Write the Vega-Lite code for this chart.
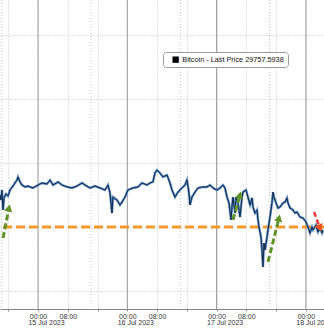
{
  "$schema": "https://vega.github.io/schema/vega-lite/v6.json",
  "width": 324,
  "height": 309,
  "autosize": {"type": "none"},
  "padding": {"left": 0, "top": 0, "right": 0, "bottom": 19},
  "background": "white",
  "config": {"view": {"stroke": null}, "font": "Liberation Sans"},
  "datasets": {
    "btc": [
      {"t": "2023-07-14T13:47", "price": 30000},
      {"t": "2023-07-14T14:03", "price": 29961},
      {"t": "2023-07-14T14:19", "price": 30039},
      {"t": "2023-07-14T14:36", "price": 29883},
      {"t": "2023-07-14T14:52", "price": 29977},
      {"t": "2023-07-14T15:24", "price": 30008},
      {"t": "2023-07-14T15:56", "price": 29992},
      {"t": "2023-07-14T16:28", "price": 30039},
      {"t": "2023-07-14T17:17", "price": 30070},
      {"t": "2023-07-14T17:49", "price": 30094},
      {"t": "2023-07-14T18:21", "price": 30117},
      {"t": "2023-07-14T18:37", "price": 30141},
      {"t": "2023-07-14T19:10", "price": 30102},
      {"t": "2023-07-14T19:42", "price": 30078},
      {"t": "2023-07-14T20:30", "price": 30063},
      {"t": "2023-07-14T21:19", "price": 30070},
      {"t": "2023-07-14T21:51", "price": 30063},
      {"t": "2023-07-14T22:39", "price": 30055},
      {"t": "2023-07-15T00:00", "price": 30078},
      {"t": "2023-07-15T01:05", "price": 30094},
      {"t": "2023-07-15T02:25", "price": 30086},
      {"t": "2023-07-15T03:14", "price": 30117},
      {"t": "2023-07-15T04:02", "price": 30078},
      {"t": "2023-07-15T05:23", "price": 30102},
      {"t": "2023-07-15T06:27", "price": 30078},
      {"t": "2023-07-15T07:48", "price": 30063},
      {"t": "2023-07-15T09:08", "price": 30055},
      {"t": "2023-07-15T10:29", "price": 30070},
      {"t": "2023-07-15T11:50", "price": 30094},
      {"t": "2023-07-15T12:38", "price": 30078},
      {"t": "2023-07-15T13:59", "price": 30055},
      {"t": "2023-07-15T15:19", "price": 30070},
      {"t": "2023-07-15T16:40", "price": 30055},
      {"t": "2023-07-15T18:00", "price": 30039},
      {"t": "2023-07-15T18:49", "price": 30078},
      {"t": "2023-07-15T19:21", "price": 30016},
      {"t": "2023-07-15T19:53", "price": 29859},
      {"t": "2023-07-15T20:09", "price": 29984},
      {"t": "2023-07-15T21:14", "price": 29961},
      {"t": "2023-07-15T22:02", "price": 29922},
      {"t": "2023-07-15T22:35", "price": 29945},
      {"t": "2023-07-15T23:23", "price": 29984},
      {"t": "2023-07-16T00:11", "price": 30039},
      {"t": "2023-07-16T01:32", "price": 30055},
      {"t": "2023-07-16T02:53", "price": 30063},
      {"t": "2023-07-16T03:57", "price": 30094},
      {"t": "2023-07-16T05:18", "price": 30078},
      {"t": "2023-07-16T06:06", "price": 30094},
      {"t": "2023-07-16T06:54", "price": 30102},
      {"t": "2023-07-16T07:27", "price": 30172},
      {"t": "2023-07-16T07:59", "price": 30195},
      {"t": "2023-07-16T08:47", "price": 30172},
      {"t": "2023-07-16T09:36", "price": 30141},
      {"t": "2023-07-16T10:40", "price": 30156},
      {"t": "2023-07-16T11:29", "price": 30094},
      {"t": "2023-07-16T12:01", "price": 30039},
      {"t": "2023-07-16T12:49", "price": 29984},
      {"t": "2023-07-16T13:38", "price": 30023},
      {"t": "2023-07-16T14:42", "price": 30055},
      {"t": "2023-07-16T15:30", "price": 30078},
      {"t": "2023-07-16T16:03", "price": 30117},
      {"t": "2023-07-16T16:35", "price": 30016},
      {"t": "2023-07-16T16:51", "price": 29922},
      {"t": "2023-07-16T17:23", "price": 29984},
      {"t": "2023-07-16T18:12", "price": 30023},
      {"t": "2023-07-16T19:00", "price": 30055},
      {"t": "2023-07-16T20:21", "price": 30063},
      {"t": "2023-07-16T21:25", "price": 30063},
      {"t": "2023-07-16T22:14", "price": 30078},
      {"t": "2023-07-16T23:02", "price": 30055},
      {"t": "2023-07-17T00:06", "price": 30039},
      {"t": "2023-07-17T00:55", "price": 30055},
      {"t": "2023-07-17T01:43", "price": 30078},
      {"t": "2023-07-17T02:15", "price": 30055},
      {"t": "2023-07-17T02:48", "price": 29984},
      {"t": "2023-07-17T03:20", "price": 29938},
      {"t": "2023-07-17T03:52", "price": 29805},
      {"t": "2023-07-17T04:08", "price": 29906},
      {"t": "2023-07-17T04:24", "price": 29984},
      {"t": "2023-07-17T04:57", "price": 29859},
      {"t": "2023-07-17T05:13", "price": 29984},
      {"t": "2023-07-17T05:45", "price": 29938},
      {"t": "2023-07-17T06:17", "price": 29828},
      {"t": "2023-07-17T06:50", "price": 29984},
      {"t": "2023-07-17T07:06", "price": 30023},
      {"t": "2023-07-17T07:54", "price": 30039},
      {"t": "2023-07-17T08:26", "price": 29984},
      {"t": "2023-07-17T08:59", "price": 29922},
      {"t": "2023-07-17T09:31", "price": 29977},
      {"t": "2023-07-17T09:47", "price": 29906},
      {"t": "2023-07-17T10:19", "price": 29859},
      {"t": "2023-07-17T10:52", "price": 29883},
      {"t": "2023-07-17T11:08", "price": 29805},
      {"t": "2023-07-17T11:24", "price": 29750},
      {"t": "2023-07-17T11:56", "price": 29672},
      {"t": "2023-07-17T12:12", "price": 29570},
      {"t": "2023-07-17T12:28", "price": 29438},
      {"t": "2023-07-17T12:44", "price": 29625},
      {"t": "2023-07-17T13:01", "price": 29570},
      {"t": "2023-07-17T13:33", "price": 29672},
      {"t": "2023-07-17T13:49", "price": 29727},
      {"t": "2023-07-17T14:21", "price": 29828},
      {"t": "2023-07-17T14:53", "price": 29938},
      {"t": "2023-07-17T15:10", "price": 30023},
      {"t": "2023-07-17T15:26", "price": 29984},
      {"t": "2023-07-17T15:58", "price": 29938},
      {"t": "2023-07-17T16:30", "price": 29898},
      {"t": "2023-07-17T17:02", "price": 29906},
      {"t": "2023-07-17T17:51", "price": 29938},
      {"t": "2023-07-17T18:23", "price": 29945},
      {"t": "2023-07-17T18:55", "price": 29977},
      {"t": "2023-07-17T19:11", "price": 29938},
      {"t": "2023-07-17T19:44", "price": 29898},
      {"t": "2023-07-17T20:32", "price": 29883},
      {"t": "2023-07-17T21:04", "price": 29859},
      {"t": "2023-07-17T21:37", "price": 29867},
      {"t": "2023-07-17T22:25", "price": 29828},
      {"t": "2023-07-17T23:13", "price": 29820},
      {"t": "2023-07-18T00:02", "price": 29789},
      {"t": "2023-07-18T00:34", "price": 29750},
      {"t": "2023-07-18T01:06", "price": 29703},
      {"t": "2023-07-18T01:38", "price": 29750},
      {"t": "2023-07-18T01:55", "price": 29727},
      {"t": "2023-07-18T02:43", "price": 29766},
      {"t": "2023-07-18T03:15", "price": 29711},
      {"t": "2023-07-18T03:47", "price": 29742},
      {"t": "2023-07-18T04:20", "price": 29703},
      {"t": "2023-07-18T04:36", "price": 29727}
    ],
    "days": [
      {"t": "2023-07-15T00:00"},
      {"t": "2023-07-16T00:00"},
      {"t": "2023-07-17T00:00"},
      {"t": "2023-07-18T00:00"}
    ],
    "extra": [
      {"t": "2023-07-14T14:15"},
      {"t": "2023-07-15T14:15"},
      {"t": "2023-07-16T14:15"},
      {"t": "2023-07-17T14:15"}
    ],
    "support": [{"price": 29750}],
    "greenArrows": [
      {"id": 1, "t": "2023-07-14T14:36", "price": 29664},
      {"id": 1, "t": "2023-07-14T16:12", "price": 29898},
      {"id": 2, "t": "2023-07-17T04:24", "price": 29805},
      {"id": 2, "t": "2023-07-17T06:17", "price": 30000},
      {"id": 3, "t": "2023-07-17T13:49", "price": 29477},
      {"id": 3, "t": "2023-07-17T16:46", "price": 29820}
    ],
    "greenHeads": [
      {"t": "2023-07-14T16:12", "price": 29898},
      {"t": "2023-07-17T06:17", "price": 30000},
      {"t": "2023-07-17T16:46", "price": 29820}
    ],
    "redArrow": [
      {"t": "2023-07-18T02:11", "price": 29867},
      {"t": "2023-07-18T03:47", "price": 29742}
    ],
    "redHead": [
      {"t": "2023-07-18T03:47", "price": 29742}
    ]
  },
  "resolve": {"axis": {"x": "independent"}},
  "layer": [
    {
      "data": {"name": "days"},
      "mark": {"type": "rule", "color": "#9a9a9a", "strokeWidth": 1},
      "encoding": {
        "x": {
          "field": "t", "type": "temporal",
          "scale": {"domain": [
            {"year": 2023, "month": 7, "date": 14, "hours": 13, "minutes": 47, "seconds": 12},
            {"year": 2023, "month": 7, "date": 18, "hours": 4, "minutes": 51, "seconds": 54}
          ]},
          "axis": {
            "title": null,
            "values": [
              {"year": 2023, "month": 7, "date": 15, "hours": 2, "minutes": 9},
              {"year": 2023, "month": 7, "date": 16, "hours": 2, "minutes": 9},
              {"year": 2023, "month": 7, "date": 17, "hours": 2, "minutes": 9},
              {"year": 2023, "month": 7, "date": 18, "hours": 2, "minutes": 9}
            ],
            "format": "%d %b %Y",
            "orient": "bottom",
            "offset": 8,
            "domain": false,
            "ticks": false,
            "grid": false,
            "labelPadding": 1,
            "labelFont": "Liberation Sans",
            "labelFontSize": 7,
            "labelColor": "#333333",
            "labelFlush": false,
            "labelOverlap": false,
            "labelBound": false
          }
        }
      }
    },
    {
      "data": {"name": "extra"},
      "mark": {"type": "rule", "color": "#c4c4c4", "strokeWidth": 1, "strokeDash": [1, 2]},
      "encoding": {
        "x": {"field": "t", "type": "temporal", "axis": null}
      }
    },
    {
      "data": {"name": "support"},
      "mark": {"type": "rule", "color": "#f39a2c", "strokeWidth": 3, "strokeDash": [9, 4]},
      "encoding": {
        "y": {"field": "price", "type": "quantitative", "scale": {"domain": [29109.4, 31523.4], "zero": false, "nice": false}}
      }
    },
    {
      "data": {"name": "btc"},
      "mark": {"type": "line", "color": "#5b8cc2", "strokeWidth": 2.4},
      "encoding": {
        "x": {"field": "t", "type": "temporal", "axis": null},
        "y": {"field": "price", "type": "quantitative", "scale": {"domain": [29109.4, 31523.4], "zero": false, "nice": false}}
      }
    },
    {
      "data": {"name": "btc"},
      "mark": {"type": "line", "strokeWidth": 1},
      "encoding": {
        "x": {
          "field": "t", "type": "temporal",
          "axis": {
            "title": null,
            "values": [
              {"year": 2023, "month": 7, "date": 14, "hours": 16},
              {"year": 2023, "month": 7, "date": 15, "hours": 0},
              {"year": 2023, "month": 7, "date": 15, "hours": 8},
              {"year": 2023, "month": 7, "date": 15, "hours": 16},
              {"year": 2023, "month": 7, "date": 16, "hours": 0},
              {"year": 2023, "month": 7, "date": 16, "hours": 8},
              {"year": 2023, "month": 7, "date": 16, "hours": 16},
              {"year": 2023, "month": 7, "date": 17, "hours": 0},
              {"year": 2023, "month": 7, "date": 17, "hours": 8},
              {"year": 2023, "month": 7, "date": 17, "hours": 16},
              {"year": 2023, "month": 7, "date": 18, "hours": 0}
            ],
            "labelExpr": "hours(datum.value) == 16 ? '' : timeFormat(datum.value, '%H:%M')",
            "orient": "bottom",
            "grid": true,
            "gridColor": "#c4c4c4",
            "gridDash": [1, 2],
            "domainColor": "#888888",
            "tickColor": "#888888",
            "tickSize": 2,
            "labelPadding": 1,
            "labelFont": "Liberation Sans",
            "labelFontSize": 7,
            "labelColor": "#333333",
            "labelFlush": false,
            "labelOverlap": false,
            "labelBound": false
          }
        },
        "y": {
          "field": "price", "type": "quantitative",
          "scale": {"domain": [29109.4, 31523.4], "zero": false, "nice": false},
          "axis": {
            "title": null,
            "values": [29250, 29750, 30250, 30750, 31250],
            "grid": true,
            "gridColor": "#c4c4c4",
            "gridDash": [1, 2],
            "labels": false,
            "ticks": false,
            "domain": false
          }
        },
        "color": {
          "datum": "Bitcoin - Last Price 29757.5938",
          "scale": {"range": ["#142a4a"]},
          "legend": {
            "orient": "none",
            "legendX": 163,
            "legendY": 52,
            "title": null,
            "symbolType": "square",
            "symbolSize": 40,
            "symbolOffset": 5,
            "labelOffset": 3,
            "labelFont": "Liberation Sans",
            "labelFontSize": 7.3,
            "labelColor": "#111111",
            "padding": 4,
            "strokeColor": "#999999",
            "fillColor": "#ffffff",
            "cornerRadius": 3,
            "encode": {"symbols": {"update": {"fill": {"value": "#000000"}, "stroke": {"value": "#000000"}, "strokeWidth": {"value": 0}, "opacity": {"value": 1}}}}
          }
        }
      }
    },
    {
      "data": {"name": "greenArrows"},
      "mark": {"type": "line", "color": "#5f9327", "strokeWidth": 3, "strokeDash": [6, 3]},
      "encoding": {
        "x": {"field": "t", "type": "temporal", "axis": null},
        "y": {"field": "price", "type": "quantitative", "scale": {"domain": [29109.4, 31523.4], "zero": false, "nice": false}},
        "detail": {"field": "id"}
      }
    },
    {
      "data": {"name": "greenHeads"},
      "mark": {"type": "point", "shape": "triangle-up", "filled": true, "color": "#5f9327", "size": 70, "angle": 14, "opacity": 1},
      "encoding": {
        "x": {"field": "t", "type": "temporal", "axis": null},
        "y": {"field": "price", "type": "quantitative", "scale": {"domain": [29109.4, 31523.4], "zero": false, "nice": false}}
      }
    },
    {
      "data": {"name": "redArrow"},
      "mark": {"type": "line", "color": "#e8393a", "strokeWidth": 2.5, "strokeDash": [5, 3]},
      "encoding": {
        "x": {"field": "t", "type": "temporal", "axis": null},
        "y": {"field": "price", "type": "quantitative", "scale": {"domain": [29109.4, 31523.4], "zero": false, "nice": false}}
      }
    },
    {
      "data": {"name": "redHead"},
      "mark": {"type": "point", "shape": "triangle-up", "filled": true, "color": "#f0501e", "size": 70, "angle": 158, "opacity": 1},
      "encoding": {
        "x": {"field": "t", "type": "temporal", "axis": null},
        "y": {"field": "price", "type": "quantitative", "scale": {"domain": [29109.4, 31523.4], "zero": false, "nice": false}}
      }
    }
  ]
}
